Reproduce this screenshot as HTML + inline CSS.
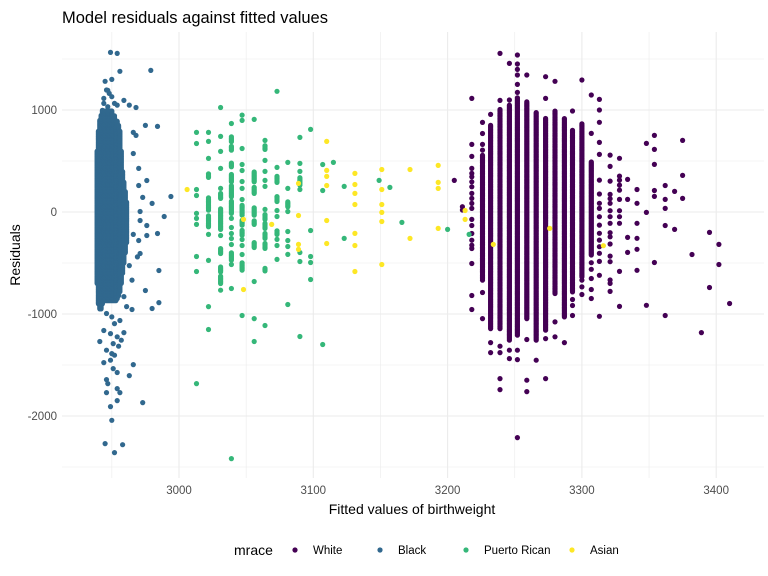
<!DOCTYPE html>
<html><head><meta charset="utf-8">
<style>
body{margin:0;background:#fff;}
svg{display:block;font-family:"Liberation Sans",sans-serif;}
</style></head>
<body>
<svg id="chart" width="768" height="576" viewBox="0 0 768 576">
<rect width="768" height="576" fill="#fff"/>
<g id="grid"></g>
<g id="marks"></g>
<g id="axes"></g>
<text x="62" y="23" font-size="16.5" fill="#000">Model residuals against fitted values</text>
<text x="412" y="514" font-size="14" text-anchor="middle" fill="#000">Fitted values of birthweight</text>
<text transform="translate(20,255) rotate(-90)" font-size="14" text-anchor="middle" fill="#000">Residuals</text>
<g id="legend"></g>
</svg>
<script>
const xTicks=[3000,3100,3200,3300,3400];
const xMinor=[2950,3050,3150,3250,3350];
const yTicks=[-2000,-1000,0,1000];
const yMinor=[-2500,-1500,-500,500,1500];
const groups=["White","Black","Puerto Rican","Asian"];
const colors=["#440154","#31688E","#35B779","#FDE725"];

// White
const whiteColFit=[3205,3211,3218,3226,3232,3239,3246,3252,3259,3266,3273,3280,3287,3293,3300,3307,3313,3321,3328,3334,3341,3348,3354,3362,3369,3375,3382,3389,3395,3402,3410];
const whiteColRes=[[310],[52,20],[1114,663,545,427,378,345,296,247,182,133,84,35,-73,-132,-211,-276,-325,-358,-505,-819,-956],[878,770,663,607,-789,-1045],[957,-1280,-1378],[1555,1094,-1316,-1378,-1633,-1741],[1457,1098,-1355,-1437],[1539,1451,1398,1343,1251,1173,-1355,-1447,-2212],[1343,-1250,-1649,-1761],[-1453],[1326,1114,-1241,-1633],[1281,-1077,-1224],[-1280],[990,-858,-917,-1015],[1294,-668,-734,-809],[1147,771,-497,-562,-652,-760,-848],[1104,1000,879,682,565,313,176,85,35,-46,-128,-209,-275,-340,-405,-484,-621,-1023],[558,447,303,173,130,85,13,-46,-111,-203,-243,-314,-432,-487,-667,-700,-778],[526,352,313,264,215,124,13,-46,-111,-582,-925],[320,124,-249,-396],[221,85,-111,-258,-366,-572],[673,-4,-915],[751,614,467,211,153,-495],[260,124,35,-132,-1015],[202,-171],[702,359,133],[-417],[-1182],[-200,-740],[-318,-515],[-897]];
const whiteSegFit=[3226,3232,3239,3246,3252,3259,3266,3273,3280,3287,3293,3300,3307];
const whiteSegLo=[-668,-1143,-1143,-1257,-1208,-1045,-1257,-1159,-799,-1028,-783,-636,-422];
const whiteSegHi=[558,852,1016,1048,1130,1081,983,918,1000,918,803,869,493];

// Black
const blackSegFit=[2939,2940,2941,2942,2943,2944,2945,2946,2947,2948,2949,2950,2951,2952,2953,2954,2955,2956,2957,2958,2959,2960,2961];
const blackSegLo=[-700,-900,-950,-950,-900,-870,-870,-870,-870,-870,-870,-870,-870,-870,-870,-850,-820,-780,-700,-600,-500,-400,-300];
const blackSegHi=[600,800,900,950,1000,1000,1000,1000,1000,1000,1000,1000,950,950,900,900,850,800,600,400,300,200,100];
const blackPtFit=[2949,2954,2956,2979,2945,2950,2947,2944,2959,2963,2968,2975,2984,2966,2968,2966,2970,2976,2970,2994,2973,2980,2971,2989,2971,2976,2984,2976,2966,2970,2971,2969,2963,2985,2965,2975,2959,2961,2980,2985,2965,2956,2944,2959,2957,2941,2955,2950,2944,2966,2951,2954,2963,2946,2947,2954,2946,2956,2954,2973,2949,2950,2945,2958,2952,2946,2950,2952,2949,2954,2951,2946,2952,2949,2946,2948,2950,2944,2952,2947,2954];
const blackPtRes=[1565,1555,1379,1388,1281,1300,1192,1114,1094,1048,1025,849,839,780,751,574,427,309,260,152,143,84,5,-44,-83,-132,-211,-230,-220,-279,-407,-440,-525,-574,-668,-770,-829,-927,-946,-888,-956,-1064,-1162,-1182,-1257,-1270,-1316,-1388,-1476,-1496,-1535,-1574,-1604,-1643,-1682,-1731,-1771,-1771,-1849,-1869,-1908,-2042,-2271,-2281,-2359,-995,-1028,-1094,-1192,-1224,-1290,-1355,-1404,-1453,1196,1163,1130,1065,1065,1032,1048];

// Puerto Rican
const prColFit=[3013,3022,3031,3039,3047,3056,3064,3073,3081,3090,3098,3107,3115,3123,3149,3157,3166,3200,3216];
const prColRes=[[780,672,221,162,-14,-63,-122,-436,-583,-1682],[780,692,525,-220,-475,-927,-1152],[1025,741,594,427,231,-171,-230,-767],[868,-63,-152,-211,-260,-319,-515,-750,-2418],[950,898,623,466,407,299,231,123,-270,-328,-417,-1015],[908,-681,-1045,-1270],[702,506,398,310,251,25,-1113],[1183,437,15,-44,-269,-328,-465],[486,231,5,-191,-279,-338,-416,-907],[731,476,398,221,-397,-485,-1221],[810,-181,-436,-495,-662],[466,211,-1299],[486],[251,-259],[310],[241],[-102],[-171],[-220]];
const prSegFit=[3022,3022,3022,3031,3031,3031,3031,3031,3039,3039,3039,3039,3039,3039,3039,3047,3047,3047,3047,3056,3056,3056,3056,3056,3064,3064,3064,3064,3064,3064,3073,3073,3073,3081,3090];
const prSegLo=[339,18,-145,133,-162,-407,-587,-701,689,607,443,296,149,-14,-472,-31,-129,-227,-570,296,182,-31,-122,-348,614,-73,-161,-259,-357,-577,290,103,-220,51,264];
const prSegHi=[378,149,-31,182,35,-358,-538,-619,738,646,483,378,264,117,-391,67,-80,-178,-489,401,247,51,-80,-292,653,-24,-112,-210,-308,-544,359,162,-181,100,346];

// Asian
const asianColFit=[3006,3048,3069,3089,3110,3131,3151,3172,3193,3213,3234,3276,3316];
const asianColRes=[[221],[-73,-760],[-122],[280,-34,-318,-367],[692,408,349,260,-83,-309],[378,270,182,74,-210,-328,-583],[417,221,74,-4,-93,-515],[417,-259],[457,290,231,-161],[15,-73],[-318],[-161],[-330]];

const NS="http://www.w3.org/2000/svg";
function xS(v){return 179+(v-3000)*1.343;}
function yS(r){return 212-r*0.102;}
const PL=62,PR=764,PT=32,PB=478;
const grid=document.getElementById('grid'),marks=document.getElementById('marks'),axes=document.getElementById('axes'),legend=document.getElementById('legend');
function line(p,x1,y1,x2,y2,w){const l=document.createElementNS(NS,'line');l.setAttribute('x1',x1);l.setAttribute('y1',y1);l.setAttribute('x2',x2);l.setAttribute('y2',y2);l.setAttribute('stroke','#EBEBEB');l.setAttribute('stroke-width',w);p.appendChild(l);return l;}
xMinor.forEach(v=>{const l=line(grid,xS(v),PT,xS(v),PB,0.6);

});
yMinor.forEach(v=>{const l=line(grid,PL,yS(v),PR,yS(v),0.6);

});
xTicks.forEach(v=>{const l=line(grid,xS(v),PT,xS(v),PB,1.1);


const t=document.createElementNS(NS,'text');t.setAttribute('x',xS(v));t.setAttribute('y',494);t.setAttribute('text-anchor','middle');t.setAttribute('font-size','11.5');t.setAttribute('fill','#4D4D4D');t.textContent=v;


axes.appendChild(t);});
yTicks.forEach(v=>{const l=line(grid,PL,yS(v),PR,yS(v),1.1);


const t=document.createElementNS(NS,'text');t.setAttribute('x',57);t.setAttribute('y',yS(v)+4);t.setAttribute('text-anchor','end');t.setAttribute('font-size','11.5');t.setAttribute('fill','#4D4D4D');t.textContent=v;


axes.appendChild(t);});
function dot(p,fit,res,c){const e=document.createElementNS(NS,'circle');e.setAttribute('cx',xS(fit).toFixed(1));e.setAttribute('cy',yS(res).toFixed(1));e.setAttribute('r',2.6);e.setAttribute('fill',c);p.appendChild(e);return e;}
function groupG(name){const g=document.createElementNS(NS,'g');


marks.appendChild(g);return g;}
function drawSegs(g,fits,los,his,c){fits.forEach((f,i)=>{for(let r=los[i];r<=his[i];r+=12){const d=dot(g,f,r,c);

}});}
function drawCols(g,fits,resLists,c){fits.forEach((f,i)=>{resLists[i].forEach(r=>{const d=dot(g,f,r,c);

});});}
const gw=groupG('series-white');drawSegs(gw,whiteSegFit,whiteSegLo,whiteSegHi,colors[0]);drawCols(gw,whiteColFit,whiteColRes,colors[0]);
const gb=groupG('series-black');drawSegs(gb,blackSegFit,blackSegLo,blackSegHi,colors[1]);blackPtFit.forEach((f,i)=>{const d=dot(gb,f,blackPtRes[i],colors[1]);

});
const gp=groupG('series-puerto-rican');drawSegs(gp,prSegFit,prSegLo,prSegHi,colors[2]);drawCols(gp,prColFit,prColRes,colors[2]);
const ga=groupG('series-asian');drawCols(ga,asianColFit,asianColRes,colors[3]);
// legend
const lt=document.createElementNS(NS,'text');lt.setAttribute('x',234);lt.setAttribute('y',555);lt.setAttribute('font-size','14');lt.textContent='mrace';


legend.appendChild(lt);
const lx=[295,380,466,572];
groups.forEach((gname,i)=>{const e=document.createElementNS(NS,'g');


const c=document.createElementNS(NS,'circle');c.setAttribute('cx',lx[i]);c.setAttribute('cy',550);c.setAttribute('r',2.6);c.setAttribute('fill',colors[i]);e.appendChild(c);
const t=document.createElementNS(NS,'text');t.setAttribute('x',lx[i]+18);t.setAttribute('y',554);t.setAttribute('font-size','11.5');t.setAttribute('fill','#000');t.textContent=gname;e.appendChild(t);
legend.appendChild(e);});
</script>
</body></html>
